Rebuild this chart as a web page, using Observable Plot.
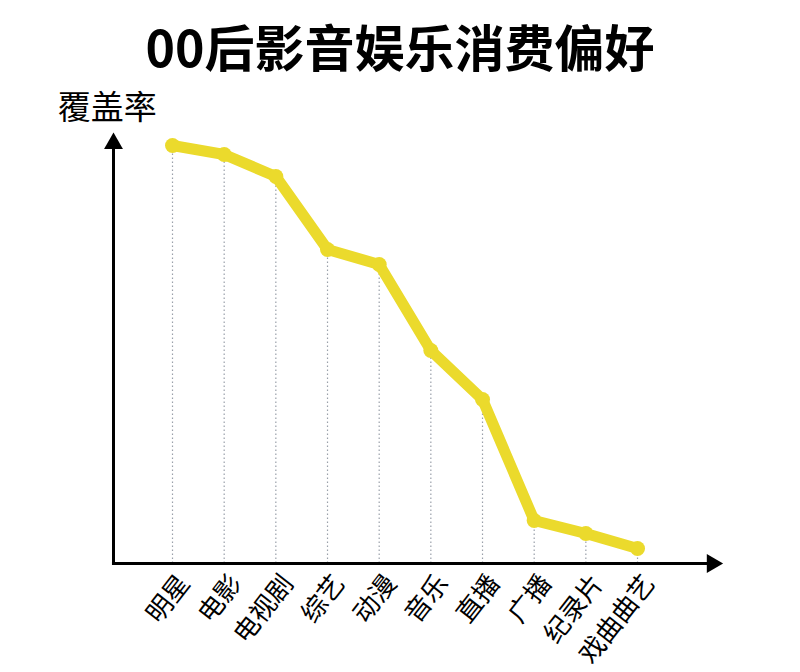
<!DOCTYPE html>
<html>
<head>
<meta charset="utf-8">
<script src="https://cdn.jsdelivr.net/npm/d3@7"></script>
<script src="https://cdn.jsdelivr.net/npm/@observablehq/plot@0.6"></script>
<style>
  html, body { margin: 0; padding: 0; background: #fff; }
  body { width: 800px; font-family: "Noto Sans CJK SC", "Noto Sans", sans-serif; }
  #title { height: 90px; line-height: 90px; text-align: center; font-size: 50px; font-weight: 700; color: #000; }
  svg { display: block; }
</style>
</head>
<body>
<div id="title">00后影音娱乐消费偏好</div>
<div id="chart"></div>
<script>
const categories = ["明星", "电影", "电视剧", "综艺", "动漫", "音乐", "直播", "广播", "纪录片", "戏曲曲艺"];
const coverage = [418, 409, 387, 314, 299, 213, 164, 43, 30, 15];
const yLabel = "覆盖率";

const data = categories.map((c, i) => ({i, c, v: coverage[i]}));
const xMin = -1.142, xMax = 10.606, yMax = 428;
const yellow = "#EBDA2C";

const chart = Plot.plot({
  width: 800,
  height: 582,
  marginLeft: 113,
  marginRight: 80,
  marginTop: 45,
  marginBottom: 109,
  style: {fontFamily: "Noto Sans CJK SC, sans-serif", background: "#fff", overflow: "visible"},
  x: {type: "linear", domain: [xMin, xMax], axis: null},
  y: {type: "linear", domain: [0, yMax], axis: null},
  marks: [
    Plot.ruleX(data, {x: "i", y1: 0, y2: "v", stroke: "#9aa0aa", strokeWidth: 1.2, strokeDasharray: "1.5,2.5"}),
    Plot.ruleX([xMin], {y1: 0, y2: yMax - 8, stroke: "#000", strokeWidth: 3}),
    Plot.ruleY([0], {x1: xMin - 0.02, x2: xMax - 0.2, stroke: "#000", strokeWidth: 3}),
    Plot.dot([yMax], {x: xMin, y: d => d - 8, symbol: "triangle", r: 7, fill: "#000", stroke: "none"}),
    Plot.dot([xMax], {x: d => d - 0.16, y: 0, symbol: "triangle", r: 7, rotate: 90, fill: "#000", stroke: "none"}),
    Plot.line(data, {x: "i", y: "v", stroke: yellow, strokeWidth: 11, strokeLinejoin: "round", strokeLinecap: "round"}),
    Plot.dot(data, {x: "i", y: "v", r: 7.5, fill: yellow, stroke: "none"}),
    Plot.text(data, {x: "i", y: 0, text: "c", rotate: -52, textAnchor: "end", dx: 12, dy: 15, fontSize: 26, fill: "#000"}),
    Plot.text([yLabel], {x: xMin - 0.12, y: yMax + 27, text: d => d, fontSize: 33, fill: "#000"})
  ]
});
document.getElementById("chart").appendChild(chart);
</script>
</body>
</html>
